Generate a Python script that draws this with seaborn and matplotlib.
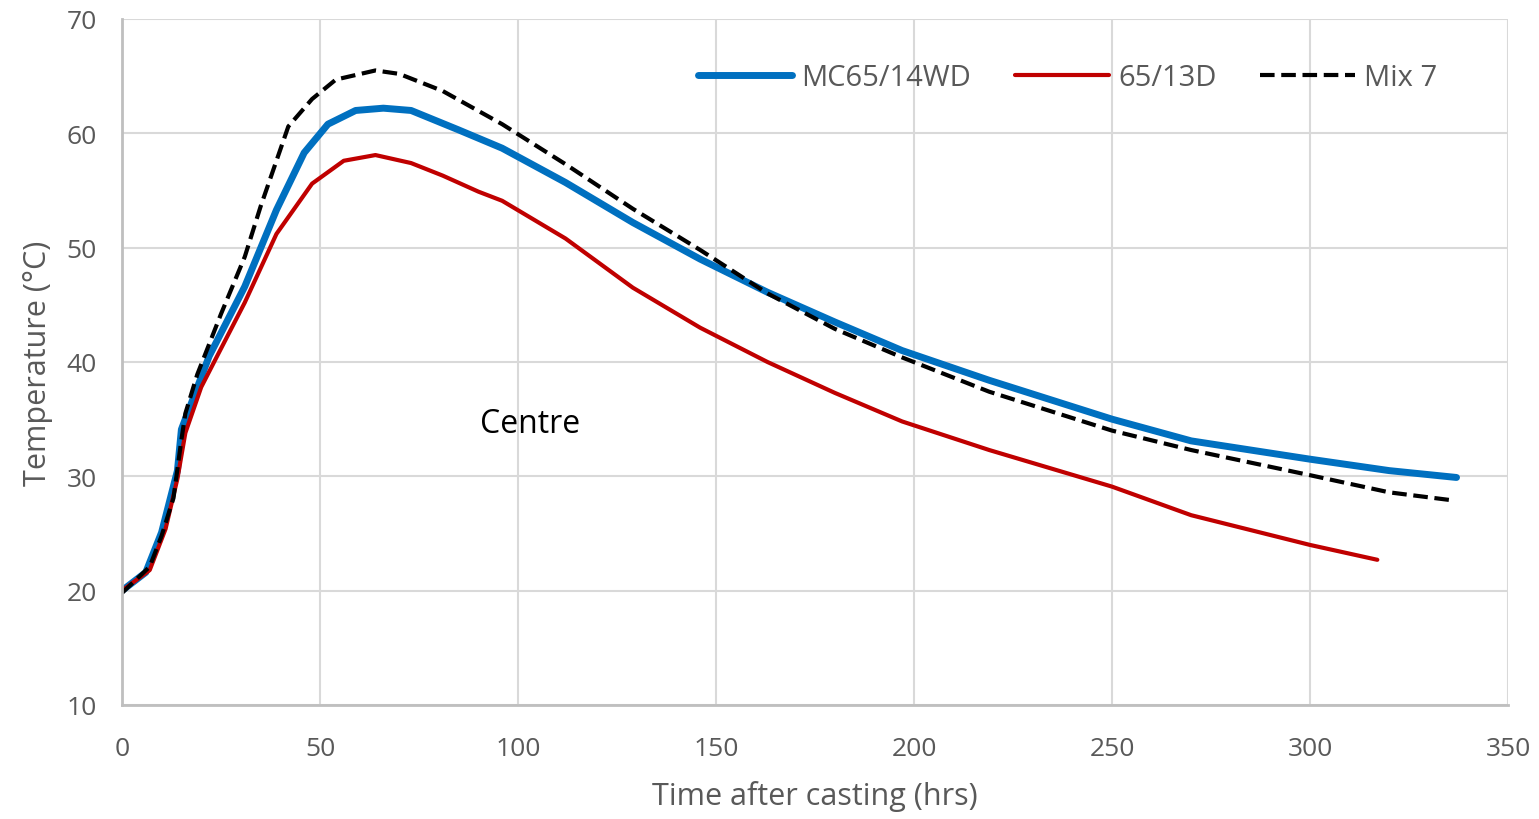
import numpy as np
import pandas as pd
import matplotlib
matplotlib.use("Agg")
import matplotlib.pyplot as plt
import seaborn as sns

# Data
t_blue = [0, 6, 10, 14, 15, 22, 31, 39, 46, 52, 59, 66, 73, 85, 96, 112, 129, 146, 163, 180, 197, 219, 250, 270, 300, 320, 337]
temp_blue = [20, 21.6, 25.1, 30.5, 34.1, 40.5, 46.6, 53.3, 58.3, 60.8, 62.0, 62.2, 62.0, 60.3, 58.7, 55.7, 52.2, 49.0, 46.1, 43.5, 41.0, 38.4, 35.0, 33.1, 31.5, 30.5, 29.9]

t_red = [0, 7, 11, 14, 16, 20, 24, 31, 39, 48, 56, 64, 73, 81, 90, 96, 112, 129, 146, 163, 180, 197, 219, 250, 270, 300, 317]
temp_red = [20, 21.8, 25.4, 29.8, 33.8, 37.8, 40.5, 45.2, 51.2, 55.6, 57.6, 58.1, 57.4, 56.3, 54.9, 54.1, 50.8, 46.5, 43.0, 40.0, 37.3, 34.8, 32.3, 29.1, 26.6, 24.0, 22.7]

t_black = [0, 7, 10, 13, 15, 16, 19, 25, 31, 35, 39, 42, 48, 54, 64, 70, 81, 96, 112, 129, 146, 163, 180, 197, 219, 250, 270, 300, 320, 336]
temp_black = [19.8, 22.1, 24.8, 28.1, 33.2, 35.5, 38.9, 44.2, 49.2, 53.6, 57.6, 60.6, 63.0, 64.7, 65.5, 65.2, 63.7, 60.8, 57.3, 53.4, 49.8, 46.0, 42.9, 40.4, 37.4, 34.0, 32.3, 30.1, 28.6, 27.9]

labels = ["MC65/14WD", "65/13D", "Mix 7"]
x_ticks = [0, 50, 100, 150, 200, 250, 300, 350]
y_ticks = [10, 20, 30, 40, 50, 60, 70]

sns.set_theme(style="white")
plt.rcParams['font.family'] = ['Open Sans', 'DejaVu Sans']

fig = plt.figure(figsize=(15.39, 8.2), dpi=100)
ax = fig.add_axes([122/1539, 1-706/820, (1508-122)/1539, (706-20)/820])

sns.lineplot(x=t_blue, y=temp_blue, ax=ax, color="#0070C0", lw=5, label=labels[0])
sns.lineplot(x=t_red, y=temp_red, ax=ax, color="#C00000", lw=3, label=labels[1])
sns.lineplot(x=t_black, y=temp_black, ax=ax, color="black", lw=3, linestyle=(0, (3.5, 1.6)), label=labels[2])
for ln in ax.get_lines():
    ln.set_solid_joinstyle("round")
    ln.set_dash_joinstyle("round")

ax.set_xlim(0, 350)
ax.set_ylim(10, 70)
ax.set_xticks(x_ticks)
ax.set_yticks(y_ticks)
ax.grid(True, color="#D9D9D9", lw=1.5)
ax.set_axisbelow(True)
for s in ["top", "right"]:
    ax.spines[s].set_visible(False)
for s in ["left", "bottom"]:
    ax.spines[s].set_color("#BFBFBF")
    ax.spines[s].set_linewidth(2)
ax.tick_params(axis="both", length=0, labelsize=19, colors="#595959")
ax.tick_params(axis="x", pad=22)
ax.tick_params(axis="y", pad=18)

ax.set_xlabel("Time after casting (hrs)", fontsize=22, color="#595959", labelpad=14)
ax.set_ylabel("Temperature (°C)", fontsize=22, color="#595959", labelpad=10)

ax.text(103, 34.6, "Centre", fontsize=23, color="black", ha="center", va="center")

leg = ax.legend(loc="center", bbox_to_anchor=(0.682, 0.915), ncol=3, frameon=False,
                fontsize=21, handlelength=3.25, columnspacing=1.5, handletextpad=0.3)
for txt in leg.get_texts():
    txt.set_color("#595959")

fig.savefig("out.png", dpi=100, facecolor="white")
